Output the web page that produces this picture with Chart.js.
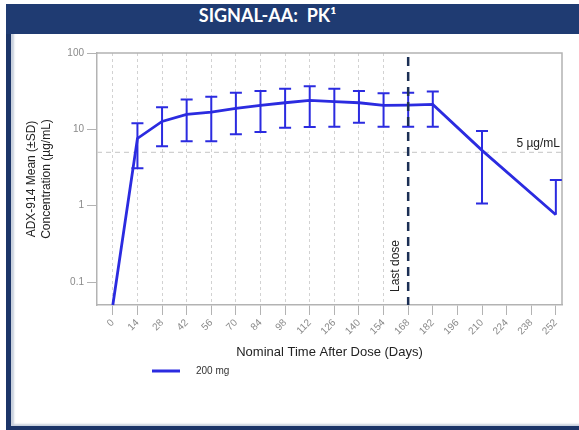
<!DOCTYPE html>
<html>
<head>
<meta charset="utf-8">
<script src="https://cdn.jsdelivr.net/npm/chart.js@4.4.0/dist/chart.umd.min.js"></script>
<style>
  html, body { margin: 0; padding: 0; background: #fff; width: 579px; height: 430px; overflow: hidden; }
  #frame { position: absolute; left: 6px; top: 4px; width: 580px; height: 422px;
           border-left: 5px solid #1c3568; border-bottom: 4px solid #1c3568;
           box-shadow: inset 3px -2px 2px #c9d1de; background: #fff; }
  #titlebar { position: absolute; left: 6px; top: 4px; width: 580px; height: 30px; background: #1f3b72; }
  #title { position: absolute; left: 6px; top: 4px; width: 523px; height: 30px; line-height: 30px;
           text-align: center; color: #fff; font: bold 18px Lato, "Open Sans", sans-serif; }
  canvas { position: absolute; left: 0; top: 0; }
</style>
</head>
<body>
<div id="frame"></div>
<div id="titlebar"></div>
<div id="title">SIGNAL-AA:&nbsp; PK¹</div>
<canvas id="pk" width="579" height="430"></canvas>
<script>
// PK profile, 200 mg cohort
var days      = [0, 14, 28, 42, 56, 70, 84, 98, 112, 126, 140, 154, 168, 182, 210, 252];
var meanConc  = [0.05, 7.6, 12.7, 15.7, 16.8, 18.8, 20.6, 22.3, 23.9, 23, 22.3, 20.6, 20.8, 21.2, 5.3, 0.76];
var sdUpper   = [null, 12, 19.4, 24.6, 26.7, 30.2, 31.7, 34, 36.8, 34, 31.7, 29.6, 30.2, 31.2, 9.5, 2.17];
var sdLower   = [null, 3.1, 6.0, 7.0, 7.0, 8.6, 9.2, 10.5, 10.7, 10.8, 12.2, 10.8, 10.8, 10.8, 1.07, null];

var xTickValues = [0, 14, 28, 42, 56, 70, 84, 98, 112, 126, 140, 154, 168, 182, 196, 210, 224, 238, 252];
var yTickValues = [0.1, 1, 10, 100];

var seriesLabel = '200 mg';
var lastDoseDay = 168;
var thresholdConc = 5;
var thresholdLabel = '5 µg/mL';
var gridUntilDay = 154;

var FONT = '"Liberation Sans", Arial, sans-serif';
var BLUE = '#2b2be0';
var AXIS = '#b3b3b3';

var pkExtras = {
    id: 'pkExtras',
    beforeDatasetsDraw: function (chart) {
        var ctx = chart.ctx, a = chart.chartArea, y = chart.scales.y;
        ctx.save();
        // top + right frame
        ctx.strokeStyle = AXIS;
        ctx.lineWidth = 1.5;
        ctx.beginPath();
        ctx.moveTo(a.left, a.top);
        ctx.lineTo(a.right, a.top);
        ctx.lineTo(a.right, a.bottom);
        ctx.stroke();
        // 5 ug/mL reference line
        var ty = y.getPixelForValue(thresholdConc);
        ctx.strokeStyle = '#d0d0d0';
        ctx.lineWidth = 1.2;
        ctx.setLineDash([5, 4]);
        ctx.beginPath();
        ctx.moveTo(a.left, ty);
        ctx.lineTo(a.right, ty);
        ctx.stroke();
        ctx.setLineDash([]);
        ctx.fillStyle = '#222';
        ctx.font = '12px ' + FONT;
        ctx.textAlign = 'right';
        ctx.textBaseline = 'bottom';
        ctx.fillText(thresholdLabel, a.right - 2, ty - 3);
        ctx.restore();
    },
    afterDatasetsDraw: function (chart) {
        var ctx = chart.ctx, a = chart.chartArea, x = chart.scales.x, y = chart.scales.y;
        var color = chart.data.datasets[0].borderColor;
        ctx.save();
        // error bars (mean +/- SD)
        ctx.strokeStyle = color;
        ctx.lineWidth = 2;
        days.forEach(function (d, i) {
            if (sdUpper[i] == null) return;
            var px = x.getPixelForValue(d);
            var top = y.getPixelForValue(sdUpper[i]);
            var bot = y.getPixelForValue(sdLower[i] == null ? meanConc[i] : sdLower[i]);
            ctx.beginPath();
            ctx.moveTo(px, top);
            ctx.lineTo(px, bot);
            ctx.moveTo(px - 6, top);
            ctx.lineTo(px + 6, top);
            if (sdLower[i] != null) {
                ctx.moveTo(px - 6, bot);
                ctx.lineTo(px + 6, bot);
            }
            ctx.stroke();
        });
        // last dose marker
        var lx = x.getPixelForValue(lastDoseDay);
        ctx.strokeStyle = '#1b2f55';
        ctx.lineWidth = 2.5;
        ctx.setLineDash([9, 6]);
        ctx.beginPath();
        ctx.moveTo(lx, a.top + 4);
        ctx.lineTo(lx, a.bottom);
        ctx.stroke();
        ctx.setLineDash([]);
        ctx.translate(lx - 12, a.bottom - 13);
        ctx.rotate(-Math.PI / 2);
        ctx.fillStyle = '#222';
        ctx.font = '12px ' + FONT;
        ctx.textAlign = 'left';
        ctx.textBaseline = 'middle';
        ctx.fillText('Last dose', 0, 0);
        ctx.restore();
    },
    afterDraw: function (chart) {
        // legend, drawn by hand so it can sit under the axis title
        var ctx = chart.ctx, ds = chart.data.datasets[0];
        ctx.save();
        ctx.strokeStyle = ds.borderColor;
        ctx.lineWidth = 3;
        ctx.beginPath();
        ctx.moveTo(152, 371);
        ctx.lineTo(180, 371);
        ctx.stroke();
        ctx.fillStyle = '#333';
        ctx.font = '10px ' + FONT;
        ctx.textBaseline = 'middle';
        ctx.fillText(ds.label, 196, 371);
        ctx.restore();
    }
};

Chart.defaults.font.family = FONT;

var pkChart = new Chart(document.getElementById('pk').getContext('2d'), {
    type: 'line',
    data: {
        datasets: [
            {
                label: seriesLabel,
                data: days.map(function (d, i) { return { x: d, y: meanConc[i] }; }),
                borderColor: BLUE,
                borderWidth: 2.8,
                pointRadius: 0,
                tension: 0,
                fill: false,
                clip: false
            }
        ]
    },
    options: {
        responsive: false,
        animation: false,
        layout: { padding: { top: 53, right: 17, left: 0, bottom: 0 } },
        plugins: { legend: { display: false }, tooltip: { enabled: false } },
        scales: {
            x: {
                type: 'linear',
                min: -9,
                max: 255.5,
                afterBuildTicks: function (s) { s.ticks = xTickValues.map(function (v) { return { value: v }; }); },
                afterFit: function (s) { s.height = 125; },
                ticks: { autoSkip: false, minRotation: 45, maxRotation: 45, color: '#8a8a8a', font: { size: 10 }, padding: 2 },
                grid: {
                    color: function (c) { return c.tick && c.tick.value <= gridUntilDay ? '#d2d2d2' : 'rgba(0,0,0,0)'; },
                    tickColor: AXIS,
                    tickLength: 10,
                    lineWidth: 1
                },
                border: { color: AXIS, width: 1.5, dash: [3, 3] },
                title: { display: true, text: 'Nominal Time After Dose (Days)', color: '#222', font: { size: 13 }, padding: { top: 0, bottom: 70 } }
            },
            y: {
                type: 'logarithmic',
                min: 0.05,
                max: 100,
                afterBuildTicks: function (s) { s.ticks = yTickValues.map(function (v) { return { value: v }; }); },
                afterFit: function (s) { s.width = 97; },
                ticks: { callback: function (v) { return String(v); }, color: '#8a8a8a', font: { size: 10 }, padding: 3 },
                grid: { drawOnChartArea: false, tickColor: AXIS, tickLength: 10 },
                border: { color: AXIS, width: 1.5 },
                title: { display: true, text: ['ADX-914 Mean (±SD)', 'Concentration (µg/mL)'], color: '#222', font: { size: 12, lineHeight: 1.25 }, padding: { top: 24, bottom: 0 } }
            }
        }
    },
    plugins: [pkExtras]
});
</script>
</body>
</html>
